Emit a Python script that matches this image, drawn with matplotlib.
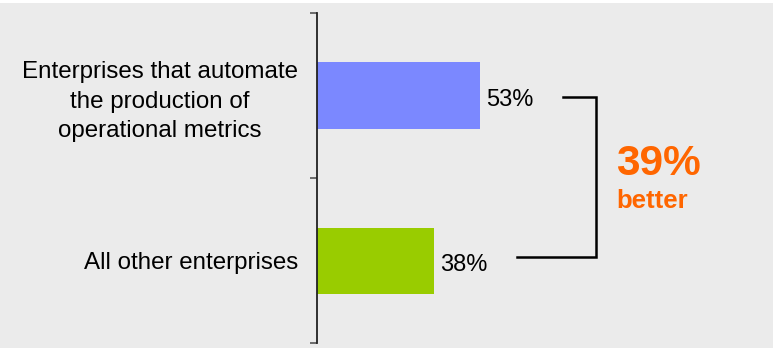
import matplotlib.pyplot as plt
from matplotlib.patches import Rectangle

plt.rcParams['font.family'] = ['Liberation Sans', 'DejaVu Sans']

# data (bottom to top)
categories = ["All other enterprises",
              "Enterprises that automate\nthe production of\noperational metrics"]
values = [38, 53]
bar_colors = ["#99CC00", "#7B88FF"]
value_labels = ["38%", "53%"]
diff_label = "39%"
diff_word = "better"

bg = "#EBEBEB"
orange = "#FF6600"

fig = plt.figure(figsize=(7.73, 3.48), dpi=100, facecolor="white")
# gray panel, thin white strip on top
fig.patches.append(Rectangle((0, 0), 1, 345 / 348, transform=fig.transFigure,
                             facecolor=bg, edgecolor="none", zorder=-1))

ax = fig.add_axes([317 / 773, 5 / 348, 456 / 773, 330 / 348])
ax.set_facecolor("none")

ypos = list(range(len(categories)))
ax.barh(ypos, values, height=0.4, color=bar_colors)

ax.set_xlim(0, 148)
ax.set_ylim(-0.5, 1.5)

for s in ["top", "right", "bottom"]:
    ax.spines[s].set_visible(False)
ax.spines["left"].set_color("#222222")
ax.spines["left"].set_linewidth(1.3)
ax.set_xticks([])

# tick marks on category boundaries, labels on category centres
ax.set_yticks([-0.5, 0.5, 1.5])
ax.set_yticklabels([])
ax.tick_params(axis="y", which="major", length=5, width=1.2, color="#555555")
ax.set_yticks(ypos, minor=True)
ax.set_yticklabels(categories, minor=True, fontsize=17.4, multialignment="center",
                   linespacing=1.45)
ax.tick_params(axis="y", which="minor", length=0, pad=13.5)

for y, v, lab in zip(ypos, values, value_labels):
    ax.text(v + 2, y - 0.03, lab, fontsize=17, va="center", ha="left", color="black")

# bracket between the two bars
off = 27
xv = max(values) + off + 10.5
ax.plot([values[1] + off, xv, xv, values[0] + off],
        [0.99, 0.99, 0.02, 0.02], color="black", lw=1.8, solid_joinstyle="miter",
        clip_on=False)

ax.text(97, 0.585, diff_label, color=orange, fontsize=30.5, fontweight="bold",
        va="center", ha="left")
ax.text(97, 0.36, diff_word, color=orange, fontsize=18.5, fontweight="bold",
        va="center", ha="left")

fig.savefig("out.png", dpi=100, facecolor=fig.get_facecolor())
